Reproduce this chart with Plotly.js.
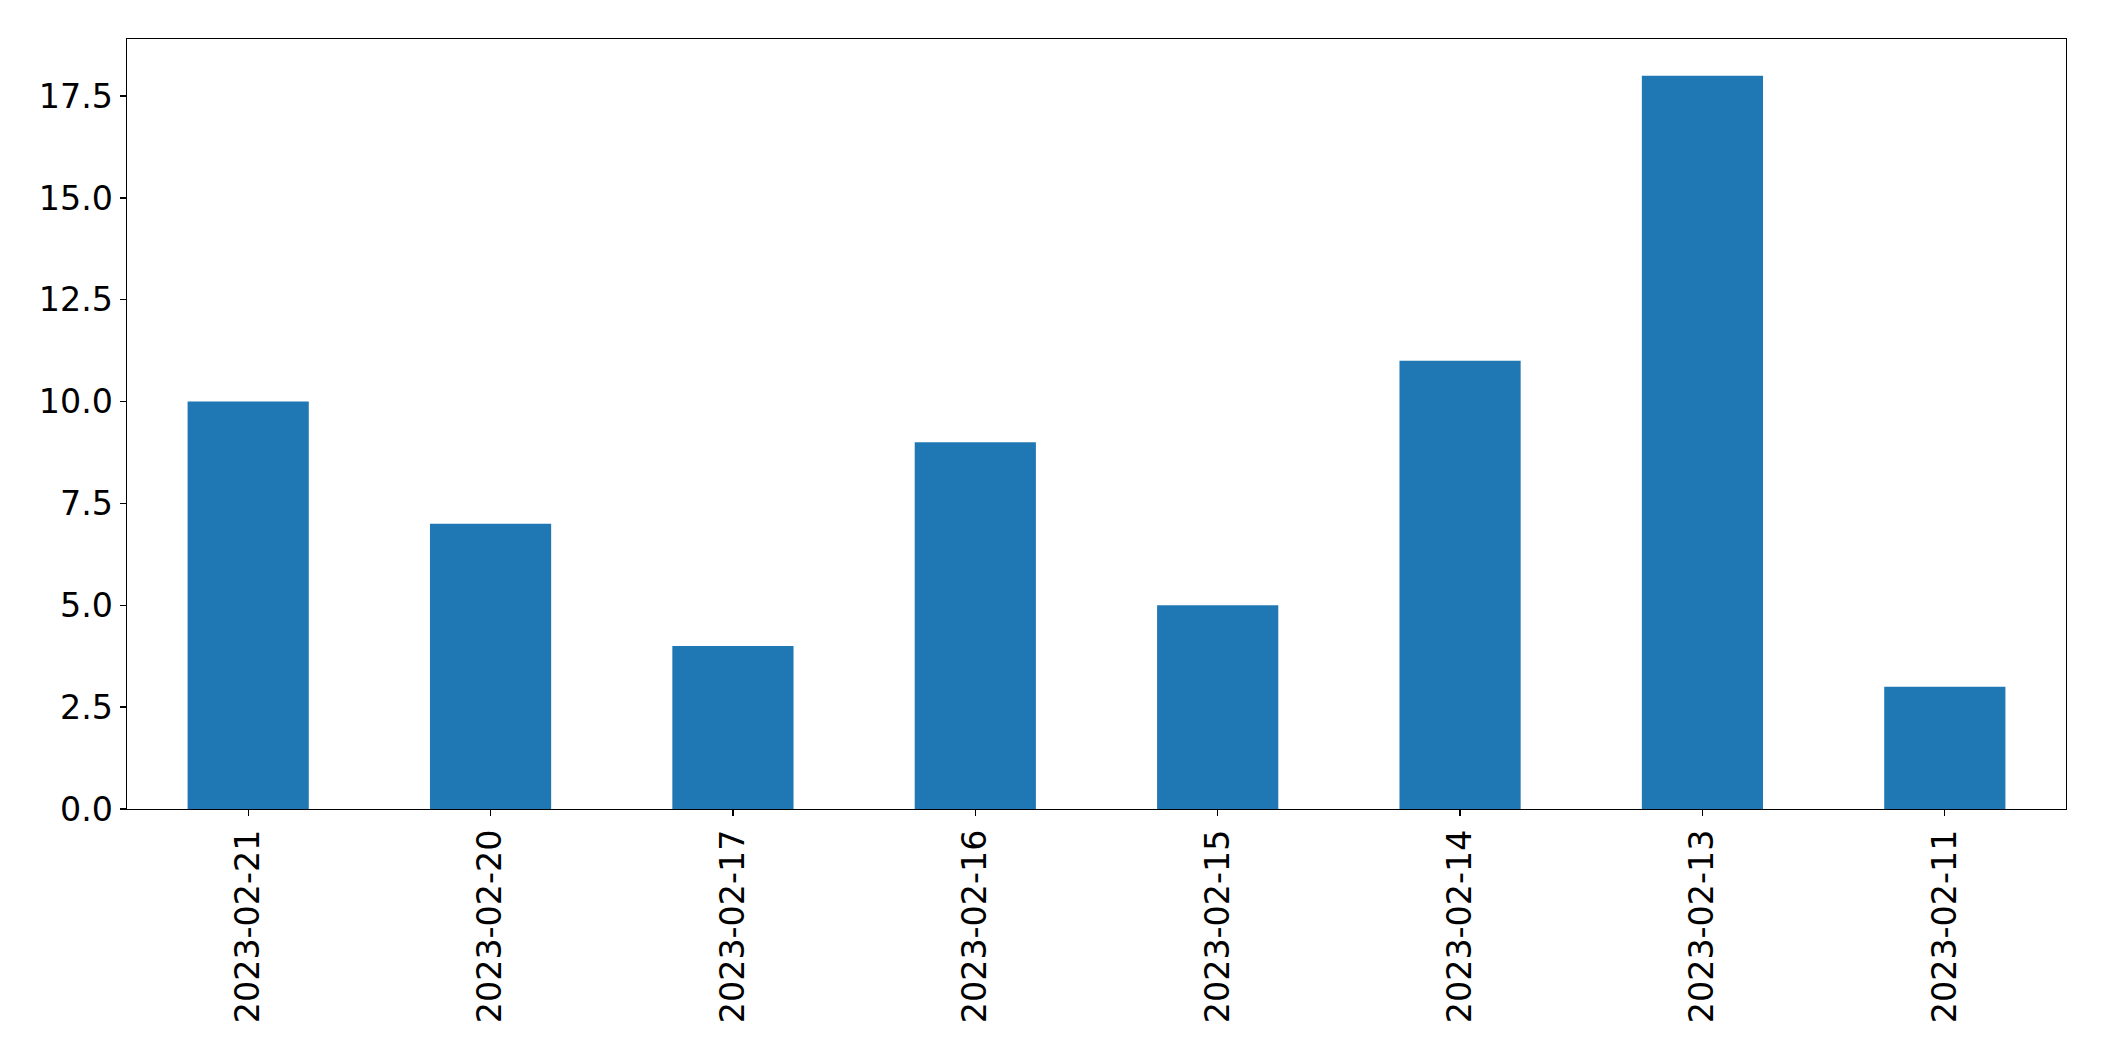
<!DOCTYPE html>
<html>
<head>
<meta charset="utf-8">
<script src="https://cdn.plot.ly/plotly-3.0.1.min.js"></script>
<style>html,body{margin:0;padding:0;background:#fff;}#chart{width:2104px;height:1061px;}</style>
</head>
<body>
<div id="chart"></div>
<script>
const dates = ["2023-02-21","2023-02-20","2023-02-17","2023-02-16","2023-02-15","2023-02-14","2023-02-13","2023-02-11"];
const counts = [10, 7, 4, 9, 5, 11, 18, 3];
const yTicks = [0, 2.5, 5, 7.5, 10, 12.5, 15, 17.5];

const font = {family: "DejaVu Sans", size: 33.3, color: "#000"};
const axisCommon = {
  showline: true, mirror: true, linecolor: "#000", linewidth: 1.33,
  ticks: "outside", ticklen: 6, tickwidth: 1.33, tickcolor: "#000",
  showgrid: false, zeroline: false, tickfont: font
};
Plotly.newPlot("chart", [{
  type: "bar", x: dates, y: counts, width: 0.5,
  marker: {color: "#1f77b4", line: {width: 0}}
}], {
  width: 2104, height: 1061,
  margin: {l: 127, r: 38, t: 39, b: 252},
  paper_bgcolor: "#fff", plot_bgcolor: "#fff",
  showlegend: false,
  font: font,
  xaxis: Object.assign({}, axisCommon, {type: "category", range: [-0.5, 7.5], tickangle: -90}),
  yaxis: Object.assign({}, axisCommon, {range: [0, 18.9], tickvals: yTicks, ticktext: yTicks.map(v => v.toFixed(1))})
}, {displayModeBar: false, staticPlot: true});
</script>
</body>
</html>
